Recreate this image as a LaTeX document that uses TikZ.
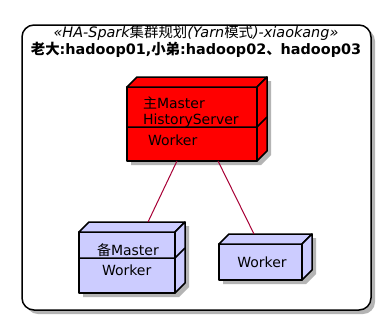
\documentclass[tikz,border=0pt]{standalone}
\usepackage{fontspec}
\setmainfont{DejaVu Sans}
\newfontfamily\cjk{Noto Sans CJK SC}
\definecolor{nodered}{HTML}{FF0000}
\definecolor{nodeblue}{HTML}{CCCCFF}
\definecolor{edgecol}{HTML}{A80036}
\definecolor{shadecol}{HTML}{B4B4B4}
\pgfdeclarelayer{back}
\pgfdeclarelayer{shade}
\pgfsetlayers{back,shade,main}
% top and right faces of a 3D node box, plus its drop shadow
\newcommand\boxsides[2]{%
  \filldraw[face, fill=#2] (#1.north west) -- ++(10,-10) -- ([shift={(10,-10)}]#1.north east) -- (#1.north east) -- cycle;
  \filldraw[face, fill=#2] (#1.north east) -- ++(10,-10) -- ([shift={(10,-10)}]#1.south east) -- (#1.south east) -- cycle;
  \begin{pgfonlayer}{shade}
    \fill[shadecol, transform canvas={xshift=4pt, yshift=-4pt}]
      (#1.south west) -- (#1.north west) -- ([shift={(10,-10)}]#1.north west)
      -- ([shift={(10,-10)}]#1.north east) -- ([shift={(10,-10)}]#1.south east)
      -- (#1.south east) -- cycle;
  \end{pgfonlayer}}
\newcommand\ttlsize{\fontsize{14.4}{16}\selectfont}
\begin{document}
\begin{tikzpicture}[x=1pt, y=-1pt,
  every node/.style={inner sep=0pt, outer sep=0pt},
  face/.style={draw=black, line width=1.5pt, line join=round},
  lbl/.style={font=\fontsize{14}{16}\selectfont, anchor=base west},
  link/.style={draw=edgecol, line width=1pt},
]
\useasboundingbox (0,0) rectangle (380,319);

% outer frame
\begin{pgfonlayer}{back}
  \fill[shadecol, rounded corners=12pt] (26,29) rectangle (375,314);
  \node[draw=black, fill=white, line width=1.5pt, rounded corners=12pt,
        minimum width=349pt, minimum height=285pt] (frame) at (196.5,167.5) {};
\end{pgfonlayer}
\node[font=\ttlsize\itshape, anchor=base] (stereo) at (196,37.5)
  {«HA-Spark{\cjk\upshape 集群规划}(Yarn{\cjk\upshape 模式})-xiaokang»};
\node[font=\ttlsize\bfseries, anchor=base] (title) at (196,54)
  {{\cjk\bfseries 老大}:hadoop01,{\cjk\bfseries 小弟}:hadoop02{\cjk\bfseries 、}hadoop03};

% master node
\node[face, fill=nodered, minimum width=130pt, minimum height=74pt] (master) at (192,124) {};
\boxsides{master}{nodered}
\draw[face] (master.west |- 0,127) -- (master.east |- 0,127) -- ++(10,-10);
\node[lbl] (m1) at (143,108.3) {{\cjk 主}Master};
\node[lbl] (m2) at (143,124.3) {HistoryServer};
\node[lbl] (m3) at (148,145) {Worker};

% standby master node
\node[face, fill=nodeblue, minimum width=96pt, minimum height=61pt] (standby) at (127,262.5) {};
\boxsides{standby}{nodeblue}
\draw[face] (standby.west |- 0,258) -- (standby.east |- 0,258) -- ++(10,-10);
\node[lbl] (s1) at (97,255.7) {{\cjk 备}Master};
\node[lbl] (s2) at (102,275.7) {Worker};

% worker node
\node[face, fill=nodeblue, minimum width=83pt, minimum height=36pt] (worker) at (260.5,262) {};
\boxsides{worker}{nodeblue}
\node[lbl, anchor=base] (w1) at (262,267.3) {Worker};

% links
\coordinate (p1) at (master.south -| 177,0);
\coordinate (p2) at (148,222);
\coordinate (p3) at (master.south -| 218,0);
\coordinate (p4) at (254,234);
\draw[link] (p1) -- (p2);
\draw[link] (p3) -- (p4);
\end{tikzpicture}
\end{document}
